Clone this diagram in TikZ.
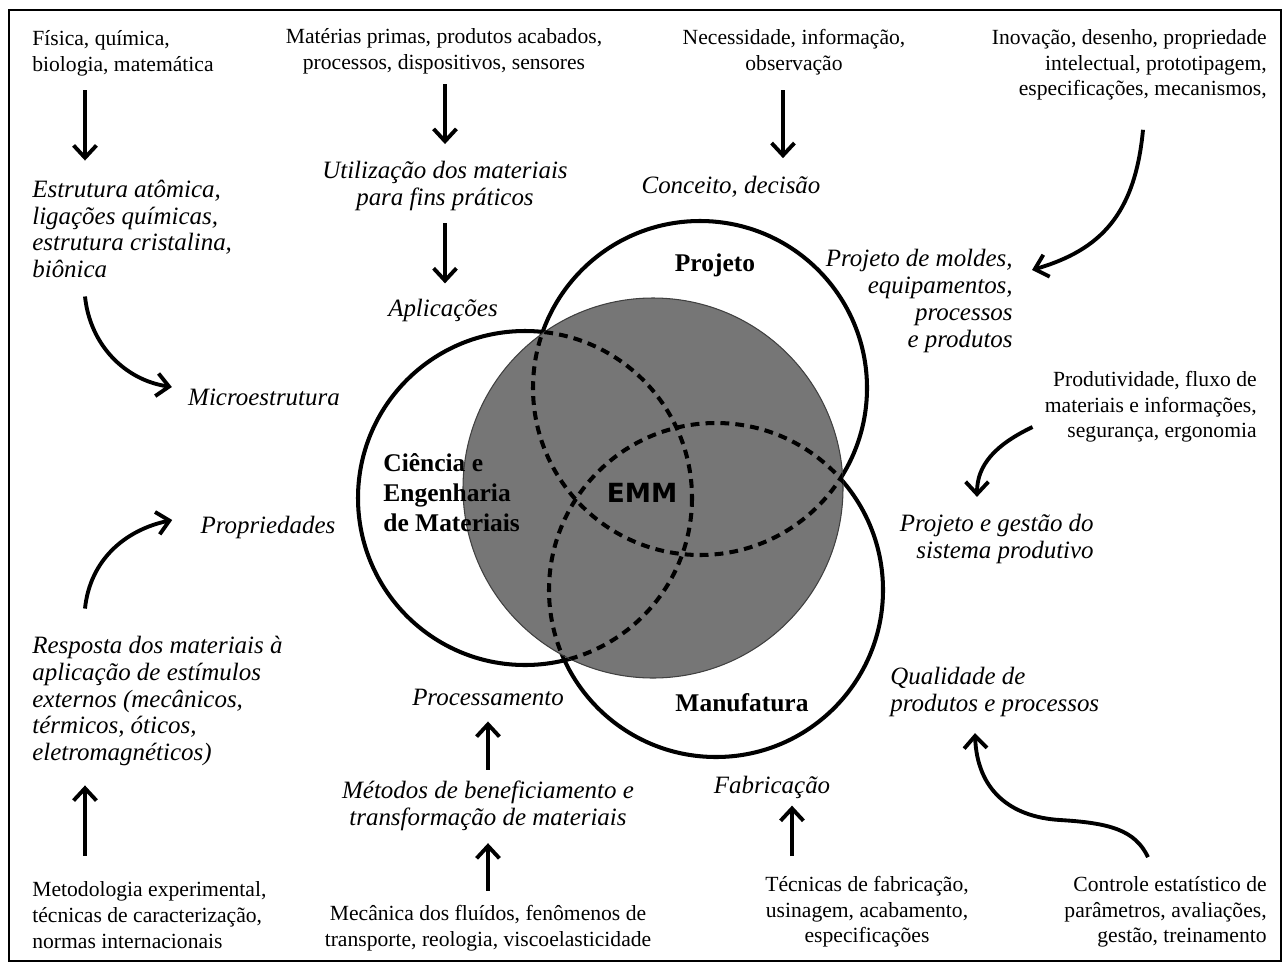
\documentclass[tikz,border=0pt]{standalone}
\usepackage{fontspec}
\setmainfont{Liberation Serif}
\newfontfamily\emmfont{DejaVu Sans}
\usetikzlibrary{arrows.meta,calc}

\definecolor{discgray}{RGB}{118,118,118}
\definecolor{discedge}{RGB}{64,64,64}

\begin{document}
\begin{tikzpicture}[x=0.02cm, y=-0.02cm,
        src/.style={inner sep=0pt, align=center, font=\fontsize{12.3}{14.6}\selectfont},
        res/.style={inner sep=0pt, align=center, font=\fontsize{14.2}{15.3}\selectfont\itshape},
        area/.style={inner sep=0pt, align=left, font=\fontsize{14.5}{17}\selectfont\bfseries},
        ring/.style={line width=2.3pt},
        hidden/.style={line width=2.3pt, dash pattern=on 5pt off 3.5pt},
        flow/.style={line width=2.2pt, -{Straight Barb[length=7pt,width=13pt]}}
      ]
      \useasboundingbox (0,0) rectangle (1287,970);
      \draw[line width=1.1pt] (9,10) rectangle (1281,961);

      % the three areas and the shared disc
      \coordinate (cCien) at (525,498);
      \coordinate (cProj) at (700,388);
      \coordinate (cManu) at (716,590);
      \coordinate (cEmm) at (653,488);
      \foreach \c in {cCien,cProj,cManu}
        \draw[ring] (\c) circle[radius=167];
      \fill[discgray, draw=discedge, line width=0.6pt] (cEmm) circle[radius=190];
      \begin{scope}
        \clip (cEmm) circle[radius=190];
        \foreach \c in {cCien,cProj,cManu}
          \draw[hidden] (\c) circle[radius=167];
      \end{scope}

      \node[area] (proj) at (715,265) {Projeto};
      \node[area, anchor=west] (cien) at (383,493) {Ciência e\\Engenharia\\de Materiais};
      \node[area] (manu) at (742,703) {Manufatura};
      \node[inner sep=0pt, font=\emmfont\bfseries\fontsize{15}{18}\selectfont] (emm) at (642,493) {EMM};

      % sources and results
      \node[src, anchor=west, align=left] (fis) at (32,53) {Física, química,\\biologia, matemática};
      \node[src] (mat) at (444,51) {Matérias primas, produtos acabados,\\processos, dispositivos, sensores};
      \node[src] (nec) at (794,52) {Necessidade, informação,\\observação};
      \node[src, anchor=east, align=right] (ino) at (1267,65)
        {Inovação, desenho, propriedade\\intelectual, prototipagem,\\especificações, mecanismos,};
      \node[res, anchor=west, align=left] (estr) at (32,229)
        {Estrutura atômica,\\ligações químicas,\\estrutura cristalina,\\biônica};
      \node[res] (util) at (445,186) {Utilização dos materiais\\para fins práticos};
      \node[res] (apl) at (443,310) {Aplicações};
      \node[res] (conc) at (731,187) {Conceito, decisão};
      \node[res, anchor=east, align=right] (molde) at (1013,301)
        {Projeto de moldes,\\equipamentos,\\processos\\e produtos};
      \node[res] (micro) at (264,397) {Microestrutura};
      \node[res] (prop) at (268,527) {Propriedades};
      \node[src, anchor=east, align=right] (prodv) at (1257,407)
        {Produtividade, fluxo de\\materiais e informações,\\segurança, ergonomia};
      \node[res, anchor=east, align=right] (gest) at (1094,539) {Projeto e gestão do\\sistema produtivo};
      \node[res, anchor=west, align=left] (resp) at (32,701)
        {Resposta dos materiais à\\aplicação de estímulos\\externos (mecânicos,\\térmicos, óticos,\\eletromagnéticos)};
      \node[res] (proc) at (488,697) {Processamento};
      \node[res] (benef) at (488,806) {Métodos de beneficiamento e\\transformação de materiais};
      \node[res] (fabr) at (772,787) {Fabricação};
      \node[res, anchor=west, align=left] (qual) at (890,692) {Qualidade de\\produtos e processos};
      \node[src, anchor=west, align=left] (metod) at (32,915)
        {Metodologia experimental,\\técnicas de caracterização,\\normas internacionais};
      \node[src] (mec) at (488,928) {Mecânica dos fluídos, fenômenos de\\transporte, reologia, viscoelasticidade};
      \node[src] (tecn) at (867,912) {Técnicas de fabricação,\\usinagem, acabamento,\\especificações};
      \node[src, anchor=east, align=right] (ctrl) at (1267,912)
        {Controle estatístico de\\parâmetros, avaliações,\\gestão, treinamento};

      % straight arrows
      \draw[flow, shorten <=8pt, shorten >=10.8pt] (fis.south -| 85,0) -- (estr.north -| 85,0);
      \draw[flow, shorten <=5.7pt, shorten >=9.6pt] (mat.south -| 445,0) -- (util.north -| 445,0);
      \draw[flow, shorten <=6.8pt, shorten >=8.5pt] (util.south -| 445,0) -- (apl.north -| 445,0);
      \draw[flow, shorten <=8.5pt, shorten >=10.2pt] (nec.south -| 783,0) -- (conc.north -| 783,0);
      \draw[flow, shorten <=14.7pt, shorten >=10.8pt] (metod.north -| 85,0) -- (resp.south -| 85,0);
      \draw[flow, shorten <=8pt, shorten >=6.8pt] (mec.north -| 488,0) -- (benef.south -| 488,0);
      \draw[flow, shorten <=6.2pt, shorten >=9pt] (benef.north -| 488,0) -- (proc.south -| 488,0);
      \draw[flow, shorten <=11.3pt, shorten >=4pt] (tecn.north -| 792,0) -- (fabr.south -| 792,0);

      % curved arrows
      \draw[flow] ($(estr.south -| 85,0)+(0,18)$) .. controls (90,345) and (125,380) .. ($(micro.west)+(-16,-10)$);
      \draw[flow] ($(resp.north -| 85,0)+(0,-27)$) .. controls (90,560) and (125,530) .. ($(prop.west)+(-28,-7)$);
      \draw[flow] ($(ino.south -| 1143,0)+(0,29)$) .. controls (1135,215) and (1100,250) .. ($(molde.east)+(19,-31)$);
      \draw[flow] ($(prodv.west)+(-12,20)$) .. controls (995,445) and (977,465) .. ($(gest.north -| 977,0)+(0,-17)$);
      \draw[flow] ($(ctrl.north -| 1148,0)+(0,-19)$) .. controls (1135,830) and (1110,823) .. (1060,820)
        .. controls (1010,817) and (977,790) .. ($(qual.south -| 975,0)+(0,16)$);
    \end{tikzpicture}
\end{document}
